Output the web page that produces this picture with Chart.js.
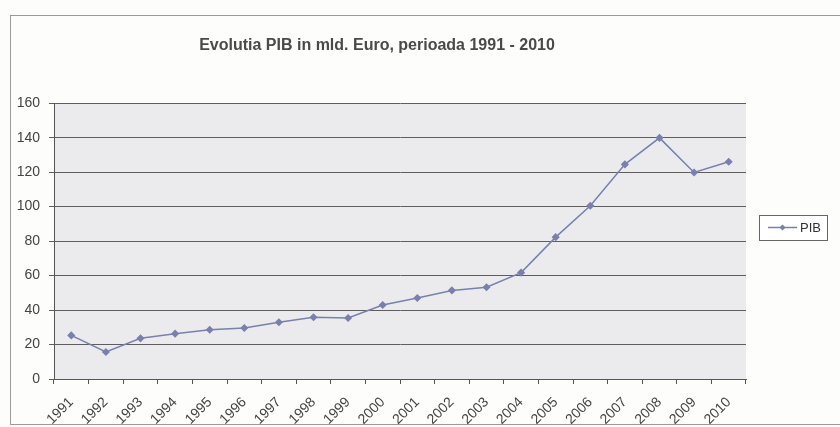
<!DOCTYPE html>
<html>
<head>
<meta charset="utf-8">
<script src="https://cdn.jsdelivr.net/npm/chart.js@4"></script>
<style>
  body { margin: 0; background: #fdfdfc; }
  #frame { position: absolute; left: 10px; top: 15px; width: 850px; height: 408px; border: 1px solid #9a9a9a; border-right: none; }
  #wrap { position: absolute; left: 0; top: 0; width: 840px; height: 427px; }
</style>
</head>
<body>
<div id="frame"></div>
<div id="wrap"><canvas id="pib-chart" width="840" height="427"></canvas></div>
<script>
const years = ["1991", "1992", "1993", "1994", "1995", "1996", "1997", "1998", "1999", "2000",
  "2001", "2002", "2003", "2004", "2005", "2006", "2007", "2008", "2009", "2010"];
const pib = [25.3, 15.7, 23.6, 26.3, 28.6, 29.6, 32.9, 35.8, 35.4, 42.9,
  47.0, 51.4, 53.2, 61.7, 82.3, 100.5, 124.5, 139.9, 119.8, 126.0];
const yTicks = [0, 20, 40, 60, 80, 100, 120, 140, 160];

const lineColor = "#7880ae";
const fontFamily = "'Liberation Sans', Arial, sans-serif";

const plotBg = {
  id: "plotBg",
  beforeDraw(chart) {
    const { ctx, chartArea: a } = chart;
    ctx.save();
    ctx.fillStyle = "#ebebee";
    ctx.fillRect(a.left, a.top, a.right - a.left, a.bottom - a.top);
    ctx.restore();
  },
};

// excel style legend: boxed, line with marker
const boxLegend = {
  id: "boxLegend",
  afterDraw(chart) {
    const { ctx } = chart;
    const x = 759, y = 215, w = 68, h = 25;
    ctx.save();
    ctx.fillStyle = "#ffffff";
    ctx.fillRect(x, y, w, h);
    ctx.strokeStyle = "#666";
    ctx.lineWidth = 1;
    ctx.strokeRect(x + 0.5, y + 0.5, w, h);
    const cy = y + h / 2;
    ctx.strokeStyle = lineColor;
    ctx.lineWidth = 1.5;
    ctx.beginPath();
    ctx.moveTo(x + 9, cy);
    ctx.lineTo(x + 38, cy);
    ctx.stroke();
    ctx.fillStyle = lineColor;
    ctx.beginPath();
    ctx.moveTo(x + 23.5, cy - 3);
    ctx.lineTo(x + 26.5, cy);
    ctx.lineTo(x + 23.5, cy + 3);
    ctx.lineTo(x + 20.5, cy);
    ctx.closePath();
    ctx.fill();
    ctx.fillStyle = "#333";
    ctx.font = "13px " + fontFamily;
    ctx.textBaseline = "middle";
    ctx.fillText(chart.data.datasets[0].label, x + 41, cy + 1);
    ctx.restore();
  },
};

document.addEventListener("DOMContentLoaded", () => {
  new Chart(document.getElementById("pib-chart"), {
    type: "line",
    data: {
      labels: years,
      datasets: [
        {
          label: "PIB",
          data: pib,
          borderColor: lineColor,
          backgroundColor: lineColor,
          borderWidth: 1.5,
          pointStyle: "rectRot",
          pointRadius: 3,
          tension: 0,
        },
      ],
    },
    options: {
      responsive: false,
      animation: false,
      devicePixelRatio: 1,
      layout: { padding: { left: 8, right: 94, top: 0, bottom: 0 } },
      plugins: {
        legend: { display: false },
        tooltip: { enabled: false },
        title: {
          display: true,
          text: "Evolutia PIB in mld. Euro, perioada 1991 - 2010",
          color: "#4a4a4a",
          font: { family: fontFamily, size: 16, weight: "bold" },
          padding: { top: 36, bottom: 48 },
        },
      },
      scales: {
        x: {
          offset: true,
          afterFit: (s) => { s.height = 48; },
          grid: { display: true, drawOnChartArea: false, offset: true, tickLength: 5, color: "#555" },
          border: { color: "#555" },
          ticks: {
            autoSkip: false,
            minRotation: 45,
            maxRotation: 45,
            color: "#444",
            padding: 10,
            font: { family: fontFamily, size: 14 },
          },
        },
        y: {
          min: 0,
          max: 160,
          afterFit: (s) => { s.width = 46; },
          afterBuildTicks: (s) => { s.ticks = yTicks.map((v) => ({ value: v })); },
          grid: { color: "#5e5e5e", tickLength: 5 },
          border: { color: "#555" },
          ticks: {
            color: "#444",
            padding: 9,
            font: { family: fontFamily, size: 14 },
          },
        },
      },
    },
    plugins: [plotBg, boxLegend],
  });
});
</script>
</body>
</html>
